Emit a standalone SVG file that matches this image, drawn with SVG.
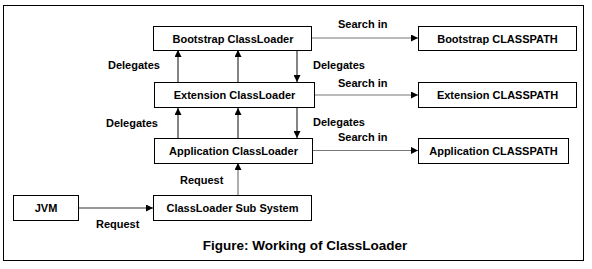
<svg xmlns="http://www.w3.org/2000/svg" width="592" height="269" viewBox="0 0 592 269">
<style>
.box{fill:#fff;stroke:#000;stroke-width:1}
.t{font-family:"Liberation Sans",Arial,sans-serif;font-weight:bold;font-size:11px;fill:#000;text-anchor:middle;dominant-baseline:central}
.l{font-family:"Liberation Sans",Arial,sans-serif;font-weight:bold;font-size:11px;fill:#000;dominant-baseline:central}
.c{stroke:#333;stroke-width:1.2;fill:none;marker-end:url(#ah)}
.g{stroke:#777;stroke-width:1.2;fill:none;marker-end:url(#ah)}
</style>
<defs>
<marker id="ah" viewBox="0 0 10 10" refX="10" refY="5" markerWidth="7" markerHeight="7" markerUnits="userSpaceOnUse" orient="auto">
<path d="M0,0 L10,5 L0,10 z" fill="#000"/>
</marker>
</defs>
<rect x="3.5" y="5.5" width="580" height="255" fill="#fff" stroke="#000"/>
<g id="connectors">
<line class="g" x1="312" y1="38" x2="418" y2="38"/>
<line class="g" x1="315" y1="95" x2="418" y2="95"/>
<line class="g" x1="313" y1="150.5" x2="418" y2="150.5"/>
<line class="c" x1="178" y1="82" x2="178" y2="50"/>
<line class="c" x1="238" y1="82" x2="238" y2="50"/>
<line class="c" x1="297" y1="50" x2="297" y2="82"/>
<line class="c" x1="178" y1="138" x2="178" y2="108"/>
<line class="c" x1="238" y1="138" x2="238" y2="108"/>
<line class="c" x1="297" y1="108" x2="297" y2="138"/>
<line class="g" x1="238" y1="195" x2="238" y2="163"/>
<line class="c" x1="78" y1="208" x2="153" y2="208"/>
<text class="l" x="338" y="24">Search in</text>
<text class="l" x="338" y="83">Search in</text>
<text class="l" x="338" y="137">Search in</text>
<text class="l" x="108" y="65">Delegates</text>
<text class="l" x="313" y="65">Delegates</text>
<text class="l" x="106" y="123">Delegates</text>
<text class="l" x="313" y="122">Delegates</text>
<text class="l" x="180" y="180">Request</text>
<text class="l" x="96" y="224">Request</text>
</g>
<g id="bootstrap"><rect class="box" x="153.5" y="26.5" width="158" height="24"/><text class="t" x="233" y="38.5">Bootstrap ClassLoader</text></g>
<g id="extension"><rect class="box" x="154.5" y="82.5" width="160" height="25"/><text class="t" x="234.5" y="95">Extension ClassLoader</text></g>
<g id="application"><rect class="box" x="154.5" y="138.5" width="158" height="25"/><text class="t" x="233.5" y="151">Application ClassLoader</text></g>
<g id="subsystem"><rect class="box" x="153.5" y="195.5" width="158" height="25"/><text class="t" x="232.5" y="208">ClassLoader Sub System</text></g>
<g id="jvm"><rect class="box" x="13.5" y="195.5" width="65" height="25"/><text class="t" x="46" y="208">JVM</text></g>
<g id="bootcp"><rect class="box" x="418.5" y="26.5" width="158" height="24"/><text class="t" x="497.5" y="38.5">Bootstrap CLASSPATH</text></g>
<g id="extcp"><rect class="box" x="418.5" y="82.5" width="158" height="25"/><text class="t" x="497.5" y="95">Extension CLASSPATH</text></g>
<g id="appcp"><rect class="box" x="418.5" y="138.5" width="150" height="25"/><text class="t" x="493.5" y="151">Application CLASSPATH</text></g>
<text x="305" y="245" font-family="Liberation Sans, Arial, sans-serif" font-weight="bold" font-size="13.5" text-anchor="middle" dominant-baseline="central">Figure: Working of ClassLoader</text>
</svg>
